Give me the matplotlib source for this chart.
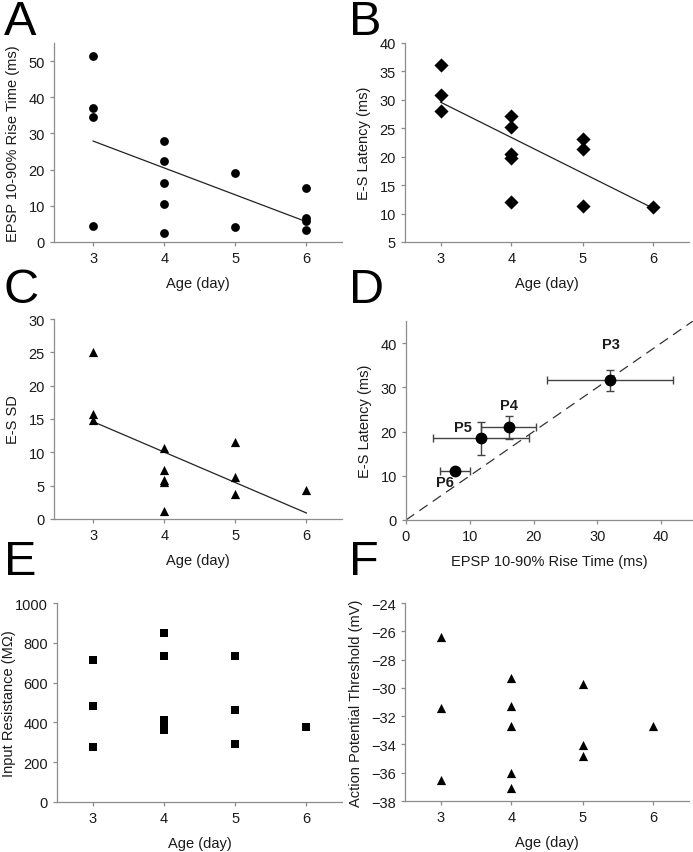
import matplotlib
matplotlib.use("Agg")
import matplotlib.pyplot as plt
import numpy as np

plt.rcParams['font.family'] = ['Liberation Sans', 'DejaVu Sans']

# ---- data ----
ageA = [3, 3, 3, 3, 4, 4, 4, 4, 4, 5, 5, 6, 6, 6, 6]
riseA = [51.3, 37.0, 34.5, 4.3, 28.0, 22.3, 16.3, 10.4, 2.6, 19.1, 4.2, 14.8, 6.7, 5.9, 3.3]
fitA_x = [3, 6]
fitA_y = [27.9, 5.6]

ageB = [3, 3, 3, 4, 4, 4, 4, 4, 5, 5, 5, 6]
latB = [36.1, 30.9, 28.0, 27.1, 25.2, 20.4, 19.7, 12.1, 23.1, 21.4, 11.3, 11.1]
fitB_x = [3, 6]
fitB_y = [29.6, 10.9]

ageC = [3, 3, 3, 4, 4, 4, 4, 4, 5, 5, 5, 6]
sdC = [25.0, 15.8, 14.9, 10.6, 7.4, 5.9, 5.5, 1.2, 11.5, 6.3, 3.7, 4.4]
fitC_x = [3, 6]
fitC_y = [14.6, 0.9]

labelsD = ['P3', 'P4', 'P5', 'P6']
riseD = [32.0, 16.1, 11.8, 7.7]
riseD_err = [9.9, 4.35, 7.5, 2.4]
latD = [31.6, 21.0, 18.5, 11.1]
latD_err = [2.4, 2.6, 3.7, 0.4]
labD_x = [32.1, 16.2, 9.0, 6.1]
labD_y = [39.7, 25.9, 21.0, 8.5]

ageE = [3, 3, 3, 4, 4, 4, 4, 4, 5, 5, 5, 6]
resE = [716, 482, 278, 850, 732, 410, 385, 362, 736, 462, 293, 378]

ageF = [3, 3, 3, 4, 4, 4, 4, 4, 5, 5, 5, 6]
thrF = [-26.4, -31.4, -36.5, -29.3, -31.25, -32.7, -36.05, -37.1, -29.75, -34.05, -34.8, -32.7]

W, H = 693, 853
fig = plt.figure(figsize=(W / 100, H / 100), dpi=100)

def add_ax(l, r, t, b):
    return fig.add_axes([l / W, 1 - b / H, (r - l) / W, (b - t) / H])

SPINE = '#8c8c8c'
TXT = '#1a1a1a'
FS = 10.5

def style(ax):
    for s in ['top', 'right']:
        ax.spines[s].set_visible(False)
    for s in ['left', 'bottom']:
        ax.spines[s].set_color(SPINE)
        ax.spines[s].set_linewidth(0.9)
    ax.tick_params(axis='both', colors=SPINE, labelcolor=TXT, labelsize=FS,
                   length=3, width=0.9, direction='out')

age_ticks = [3, 4, 5, 6]

# A
axA = add_ax(54, 342, 44, 243)
style(axA)
axA.scatter(ageA, riseA, s=40, marker='o', color='black', zorder=3, linewidths=0)
axA.plot(fitA_x, fitA_y, color='#222222', lw=0.9)
axA.set_xlim(2.45, 6.5)
axA.set_ylim(0, 55)
axA.set_yticks([0, 10, 20, 30, 40, 50])
axA.set_xticks(age_ticks)
axA.set_xlabel('Age (day)', fontsize=FS, color=TXT, labelpad=8)
axA.set_ylabel('EPSP 10-90% Rise Time (ms)', fontsize=FS, color=TXT, labelpad=6)

# B
axB = add_ax(405, 689, 44, 243)
style(axB)
axB.scatter(ageB, latB, s=52, marker='D', color='black', zorder=3, linewidths=0)
axB.plot(fitB_x, fitB_y, color='#222222', lw=0.9)
axB.set_xlim(2.5, 6.5)
axB.set_ylim(5, 40)
axB.set_yticks([5, 10, 15, 20, 25, 30, 35, 40])
axB.set_xticks(age_ticks)
axB.set_xlabel('Age (day)', fontsize=FS, color=TXT, labelpad=8)
axB.set_ylabel('E-S Latency (ms)', fontsize=FS, color=TXT, labelpad=6)

# C
axC = add_ax(54, 342, 320, 520)
style(axC)
axC.scatter(ageC, sdC, s=44, marker='^', color='black', zorder=3, linewidths=0)
axC.plot(fitC_x, fitC_y, color='#222222', lw=0.9)
axC.set_xlim(2.45, 6.5)
axC.set_ylim(0, 30)
axC.set_yticks([0, 5, 10, 15, 20, 25, 30])
axC.set_xticks(age_ticks)
axC.set_xlabel('Age (day)', fontsize=FS, color=TXT, labelpad=8)
axC.set_ylabel('E-S SD', fontsize=FS, color=TXT, labelpad=6)

# D
axD = add_ax(406, 693, 322, 521)
style(axD)
axD.plot([0, 45], [0, 45], color='#333333', lw=0.9, dashes=(8, 5), zorder=1)
axD.errorbar(riseD, latD, xerr=riseD_err, yerr=latD_err, fmt='o', color='black',
             ecolor='#444444', elinewidth=1.0, capsize=3, capthick=1.0,
             markersize=7.5, zorder=3)
for lab, lx, ly in zip(labelsD, labD_x, labD_y):
    axD.text(lx, ly, lab, fontsize=FS, fontweight='bold', color=TXT,
             ha='center', va='center')
axD.set_xlim(0, 45)
axD.set_ylim(0, 45)
axD.set_xticks([0, 10, 20, 30, 40])
axD.set_yticks([0, 10, 20, 30, 40])
axD.set_xlabel('EPSP 10-90% Rise Time (ms)', fontsize=FS, color=TXT, labelpad=8)
axD.set_ylabel('E-S Latency (ms)', fontsize=FS, color=TXT, labelpad=6)

# E
axE = add_ax(57, 342, 604, 803)
style(axE)
axE.scatter(ageE, resE, s=40, marker='s', color='black', zorder=3, linewidths=0)
axE.set_xlim(2.5, 6.5)
axE.set_ylim(0, 1000)
axE.set_yticks([0, 200, 400, 600, 800, 1000])
axE.set_xticks(age_ticks)
axE.set_xlabel('Age (day)', fontsize=FS, color=TXT, labelpad=8)
axE.set_ylabel('Input Resistance (M\u03a9)', fontsize=FS, color=TXT)
axE.yaxis.set_label_coords((16 - 57) / 285, 0.5)

# F
axF = add_ax(405, 689, 604, 802)
style(axF)
axF.scatter(ageF, thrF, s=44, marker='^', color='black', zorder=3, linewidths=0)
axF.set_xlim(2.5, 6.5)
axF.set_ylim(-38, -24)
axF.set_yticks([-38, -36, -34, -32, -30, -28, -26, -24])
axF.set_xticks(age_ticks)
axF.set_xlabel('Age (day)', fontsize=FS, color=TXT, labelpad=8)
axF.set_ylabel('Action Potential Threshold (mV)', fontsize=FS, color=TXT, labelpad=6)

# panel letters
for letter, x, y in [('A', 4, 0), ('B', 349, 0), ('C', 4, 268), ('D', 349, 268),
                     ('E', 4, 540), ('F', 349, 540)]:
    fig.text(x / W, 1 - y / H, letter, fontsize=35, color='black',
             ha='left', va='top')

fig.savefig('out.png', dpi=100)
